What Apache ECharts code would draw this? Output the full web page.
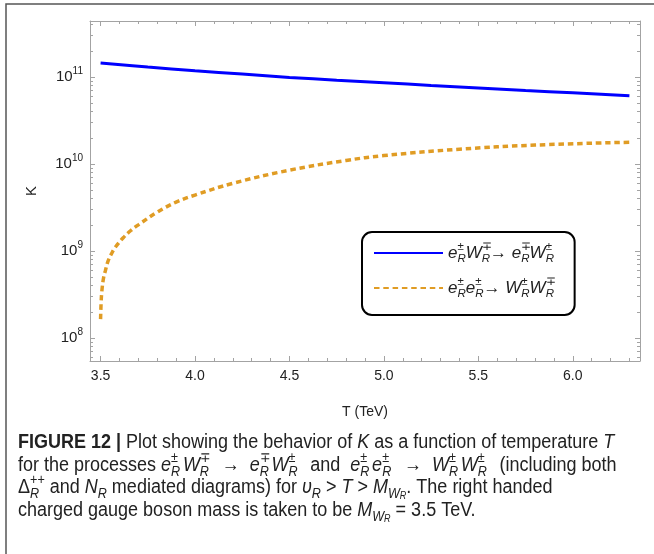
<!DOCTYPE html>
<html>
<head>
<meta charset="utf-8">
<script src="https://cdn.jsdelivr.net/npm/echarts@6/dist/echarts.min.js"></script>
<style>
  html, body { margin: 0; padding: 0; background: #fff; }
  #chart { width: 654px; height: 554px; }
</style>
</head>
<body>
<div id="chart"></div>
<script>
// e_R W_R -> e_R W_R scattering
const elasticT = [3.5, 3.75, 4.0, 4.25, 4.5, 4.75, 5.0, 5.25, 5.5, 5.75, 6.0, 6.15, 6.3];
const elasticK = [1.45e11, 1.30e11, 1.18e11, 1.08e11, 9.9e10, 9.2e10, 8.6e10, 8.0e10, 7.5e10, 7.0e10, 6.6e10, 6.35e10, 6.1e10];

// e_R e_R -> W_R W_R annihilation (opens at the W_R threshold)
const pairT = [3.5, 3.503, 3.507, 3.515, 3.525, 3.54, 3.56, 3.58, 3.62, 3.66, 3.7, 3.8, 3.9, 4.0, 4.2, 4.5, 4.8, 5.0, 5.4, 5.8, 6.3];
const pairK = [1.65e8, 2.6e8, 3.5e8, 4.8e8, 5.9e8, 7.7e8, 9.5e8, 1.12e9, 1.42e9, 1.72e9, 2.0e9, 2.8e9, 3.65e9, 4.4e9, 6.0e9, 8.5e9, 1.1e10, 1.25e10, 1.48e10, 1.65e10, 1.78e10];

// axis ticks and labels
const xMajorTicks = [3.5, 4.0, 4.5, 5.0, 5.5, 6.0];
const xTickLabels = ['3.5', '4.0', '4.5', '5.0', '5.5', '6.0'];
const yDecades = [8, 9, 10, 11];

// legend entries (rich text markup)
const seriesNames = ['eW → eW', 'ee → WW'];
const legendMarkup = [
  '{i|e}{p|±}{r|R}{i|W}{p|∓}{r|R}{a|→ }{i|e}{p|∓}{r|R}{i|W}{p|±}{r|R}',
  '{i|e}{p|±}{r|R}{i|e}{p|±}{r|R}{a|→ }{i|W}{p|±}{r|R}{i|W}{p|∓}{r|R}'
];

// caption lines
const captionLines = [
  '{b|FIGURE 12 | }{n|Plot showing the behavior of }{it|K}{n| as a function of temperature }{it|T}',
  '{n|for the processes }{it|e}{sp|±}{sb|R}{it|W}{sp|∓}{sb|R}{n|  →  }{it|e}{sp|∓}{sb|R}{it|W}{sp|±}{sb|R}{n|  and  }{it|e}{sp|±}{sb|R}{it|e}{sp|±}{sb|R}{n|  →  }{it|W}{sp|±}{sb|R}{it|W}{sp|±}{sb|R}{n|  (including both}',
  '{n|Δ}{sb0|R}{spw|++}{n| and }{it|N}{sbt|R}{n| mediated diagrams) for }{it|υ}{sbt|R}{n| > }{it|T}{n| > }{it|M}{sbw|W}{ssb|R}{n|. The right handed}',
  '{n|charged gauge boson mass is taken to be }{it|M}{sbw|W}{ssb|R}{n| = 3.5 TeV.}'
];

const FONT = 'Liberation Sans, Arial, sans-serif';
const FRAME = '#a3a3a3';
const TEXT = '#222';

const xMin = 3.444, xMax = 6.356;
const yMin = 7.736, yMax = 11.644;

const xMinorTicks = [];
for (let k = 35; k <= 63; k++) {
  if (k % 5 !== 0) xMinorTicks.push(k / 10);
}
const yMinorTicks = [];
for (let n = 7; n <= 11; n++) {
  for (let m = 2; m <= 9; m++) {
    const v = Math.log10(m) + n;
    if (v > yMin && v < yMax) yMinorTicks.push(v);
  }
}

function xAxisDef(position, ticks, len, withLine, withLabel) {
  return {
    type: 'value', position: position, min: xMin, max: xMax,
    axisLine: { show: withLine, onZero: false, lineStyle: { color: FRAME, width: 1 } },
    axisTick: { show: true, inside: true, length: len, customValues: ticks, lineStyle: { color: FRAME, width: 1 } },
    axisLabel: withLabel ? {
      show: true, customValues: xMajorTicks, margin: 8, color: TEXT, fontFamily: FONT, fontSize: 14,
      formatter: function (v) { return xTickLabels[xMajorTicks.indexOf(Math.round(v * 10) / 10)]; }
    } : { show: false },
    splitLine: { show: false },
    name: withLabel ? 'T (TeV)' : '', nameLocation: 'middle', nameGap: 44,
    nameTextStyle: { color: TEXT, fontFamily: FONT, fontSize: 14 }
  };
}

function yAxisDef(position, ticks, len, withLine, withLabel) {
  return {
    type: 'value', position: position, min: yMin, max: yMax,
    axisLine: { show: withLine, onZero: false, lineStyle: { color: FRAME, width: 1 } },
    axisTick: { show: true, inside: true, length: len, customValues: ticks, lineStyle: { color: FRAME, width: 1 } },
    axisLabel: withLabel ? {
      show: true, customValues: yDecades, margin: 7, color: TEXT, fontFamily: FONT,
      formatter: function (v) { return '{m|10}{e|' + Math.round(v) + '}'; },
      rich: {
        m: { fontSize: 15, fontFamily: FONT, color: TEXT, lineHeight: 22 },
        e: { fontSize: 10, fontFamily: FONT, color: TEXT, lineHeight: 12, verticalAlign: 'top' }
      }
    } : { show: false },
    splitLine: { show: false },
    name: withLabel ? 'K' : '', nameLocation: 'middle', nameGap: 51, nameRotate: 90,
    nameTextStyle: { color: TEXT, fontFamily: FONT, fontSize: 15 }
  };
}

const capStyle = {
  n:   { fontFamily: FONT, fontSize: 20, lineHeight: 28, color: TEXT },
  b:   { fontFamily: FONT, fontSize: 20, lineHeight: 28, color: TEXT, fontWeight: 'bold' },
  it:  { fontFamily: FONT, fontSize: 20, lineHeight: 28, color: TEXT, fontStyle: 'italic' },
  sp:  { fontFamily: FONT, fontSize: 14, lineHeight: 16, color: TEXT, verticalAlign: 'top', width: 0 },
  spw: { fontFamily: FONT, fontSize: 14, lineHeight: 16, color: TEXT, verticalAlign: 'top' },
  sb:  { fontFamily: FONT, fontSize: 14, lineHeight: 10, color: TEXT, fontStyle: 'italic', verticalAlign: 'bottom', padding: [0, 3, 0, 0] },
  sbt: { fontFamily: FONT, fontSize: 14, lineHeight: 10, color: TEXT, fontStyle: 'italic', verticalAlign: 'bottom' },
  sb0: { fontFamily: FONT, fontSize: 14, lineHeight: 10, color: TEXT, fontStyle: 'italic', verticalAlign: 'bottom', width: 0 },
  sbw: { fontFamily: FONT, fontSize: 14, lineHeight: 12, color: TEXT, fontStyle: 'italic', verticalAlign: 'bottom' },
  ssb: { fontFamily: FONT, fontSize: 10, lineHeight: 2, color: TEXT, fontStyle: 'italic', verticalAlign: 'bottom' }
};
const captionCenters = [442, 465, 487, 510];

const chart = echarts.init(document.getElementById('chart'), null, { renderer: 'canvas' });

chart.setOption({
  backgroundColor: '#fff',
  animation: false,
  grid: { left: 90, top: 21, width: 550, height: 340, containLabel: false, outerBoundsMode: 'none' },
  xAxis: [
    xAxisDef('bottom', xMajorTicks, 5, true, true),
    xAxisDef('bottom', xMinorTicks, 3, false, false),
    xAxisDef('top', xMajorTicks, 5, true, false),
    xAxisDef('top', xMinorTicks, 3, false, false)
  ],
  yAxis: [
    yAxisDef('left', yDecades, 5, true, true),
    yAxisDef('left', yMinorTicks, 3, false, false),
    yAxisDef('right', yDecades, 5, true, false),
    yAxisDef('right', yMinorTicks, 3, false, false)
  ],
  legend: {
    orient: 'vertical', left: 362, top: 232,
    data: seriesNames,
    padding: [9, 19, 15, 11], itemGap: 11, itemWidth: 69, itemHeight: 14, itemTextGap: 8,
    backgroundColor: '#fff', borderColor: '#000', borderWidth: 2, borderRadius: 10,
    itemStyle: { opacity: 0, color: 'rgba(0,0,0,0)', borderWidth: 0 },
    formatter: function (name) { return legendMarkup[seriesNames.indexOf(name)]; },
    textStyle: {
      fontFamily: FONT, fontSize: 17, color: TEXT,
      rich: {
        i: { fontFamily: FONT, fontSize: 17, fontStyle: 'italic', lineHeight: 24, color: TEXT },
        a: { fontFamily: FONT, fontSize: 17, lineHeight: 24, color: TEXT },
        p: { fontFamily: FONT, fontSize: 11.5, lineHeight: 14, verticalAlign: 'top', width: 0, color: TEXT },
        r: { fontFamily: FONT, fontSize: 11.5, fontStyle: 'italic', lineHeight: 10, verticalAlign: 'bottom', color: TEXT }
      }
    }
  },
  series: [
    {
      name: seriesNames[0], type: 'line', xAxisIndex: 0, yAxisIndex: 0,
      showSymbol: false, symbol: 'none', smooth: 0.4,
      lineStyle: { color: '#0000ff', width: 3 },
      itemStyle: { color: '#0000ff' },
      data: elasticT.map(function (t, i) { return [t, Math.log10(elasticK[i])]; })
    },
    {
      name: seriesNames[1], type: 'line', xAxisIndex: 0, yAxisIndex: 0,
      showSymbol: false, symbol: 'none', smooth: 0.4,
      lineStyle: { color: '#e09c24', width: 3.5, type: [5.5, 3.8] },
      itemStyle: { color: '#e09c24' },
      data: pairT.map(function (t, i) { return [t, Math.log10(pairK[i])]; })
    }
  ],
  graphic: [
    {
      type: 'rect', z: -10, silent: true,
      shape: { x: 6, y: 4, width: 700, height: 600 },
      style: { fill: 'none', stroke: '#555', lineWidth: 1.5 }
    },
    {
      type: 'group', x: 18, y: 0, scaleX: 0.9, scaleY: 1,
      children: captionLines.map(function (line, i) {
        return {
          type: 'text', x: 0, y: captionCenters[i],
          style: { text: line, rich: capStyle, verticalAlign: 'middle', align: 'left', fill: TEXT, font: '20px ' + FONT }
        };
      })
    }
  ]
});
</script>
</body>
</html>
